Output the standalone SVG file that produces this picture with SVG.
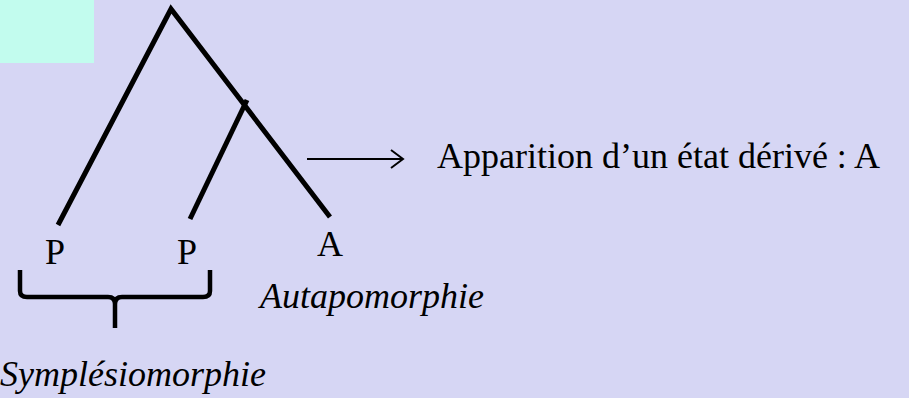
<svg xmlns="http://www.w3.org/2000/svg" width="909" height="398" viewBox="0 0 909 398">
<style>
.t{font-family:"Liberation Serif","Times New Roman",serif;font-size:36px;fill:#000}
.i{font-style:italic}
</style>
<rect x="0" y="0" width="909" height="398" fill="#D6D6F4"/>
<rect x="0" y="0" width="94" height="63" fill="#C2FCEE"/>
<g id="connectors" fill="none" stroke="#000">
<polyline points="58,225 171,9 330,217" stroke-width="5" stroke-linejoin="miter"/>
<line x1="247" y1="100" x2="190" y2="219" stroke-width="5"/>
<line x1="307" y1="159" x2="402" y2="159" stroke-width="2"/>
<polyline points="391,150 403,159 391,168" stroke-width="2"/>
<path d="M20,270 L20,291 Q20,297 27,297 L108,297 Q115,297 115,304 L115,328 M115,304 Q115,297 122,297 L203,297 Q210,297 210,291 L210,270" stroke-width="4.5"/>
</g>
<g id="node-p1"><text class="t" x="45" y="264">P</text></g>
<g id="node-p2"><text class="t" x="177" y="264">P</text></g>
<g id="node-a"><text class="t" x="317" y="256">A</text></g>
<g id="label-apparition"><text class="t" x="437" y="168">Apparition d’un état dérivé : A</text></g>
<g id="label-autapomorphie"><text class="t i" x="260" y="308">Autapomorphie</text></g>
<g id="label-symplesiomorphie"><text class="t i" x="0" y="386">Symplésiomorphie</text></g>
</svg>
